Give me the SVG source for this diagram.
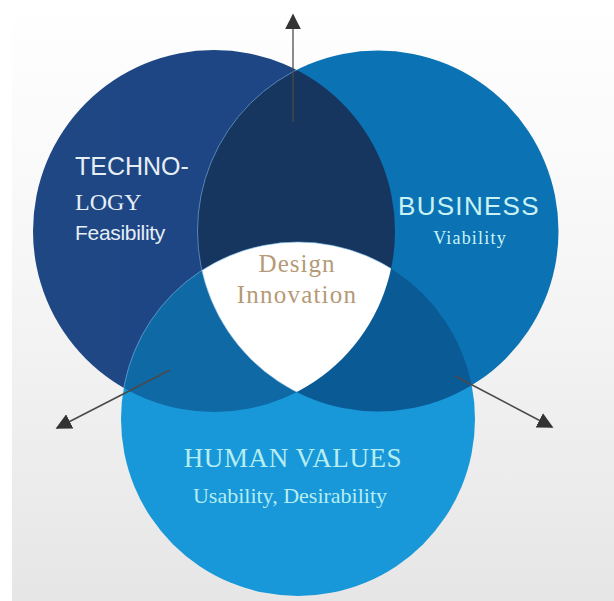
<svg xmlns="http://www.w3.org/2000/svg" width="614" height="601" viewBox="0 0 614 601">
  <defs>
    <linearGradient id="bg" x1="0" y1="0" x2="0" y2="1">
      <stop offset="0" stop-color="#ffffff"/>
      <stop offset="0.45" stop-color="#f6f6f6"/>
      <stop offset="1" stop-color="#e6e6e6"/>
    </linearGradient>
    <clipPath id="clipL"><circle cx="214" cy="231" r="181"/></clipPath>
    <clipPath id="clipR"><circle cx="378" cy="231" r="180.5"/></clipPath>
    <clipPath id="clipB"><circle cx="298" cy="419" r="177"/></clipPath>
    <marker id="ah" viewBox="0 0 10 10" refX="9" refY="5" markerWidth="16" markerHeight="16" markerUnits="userSpaceOnUse" orient="auto">
      <path d="M0,0 L10,5 L0,10 Z" fill="#333333"/>
    </marker>
    <style>
      .sans { font-family: "Liberation Sans", Arial, sans-serif; }
      .serif { font-family: "Liberation Serif", "Times New Roman", serif; }
      .conn { stroke: #4a4a4a; stroke-width: 1.6; fill: none; }
    </style>
  </defs>
  <rect width="614" height="601" fill="url(#bg)"/>
  <rect x="0" y="0" width="12" height="601" fill="#ffffff"/>

  <g id="technology">
    <circle cx="214" cy="231" r="181" fill="#1e4784"/>
  </g>
  <g id="business">
    <circle cx="378" cy="231" r="180.5" fill="#0b72b4"/>
  </g>
  <g id="human-values">
    <circle cx="298" cy="419" r="177" fill="#1897d9"/>
  </g>
  <g id="overlaps">
    <circle cx="378" cy="231" r="180.5" fill="#17365f" clip-path="url(#clipL)"/>
    <circle cx="298" cy="419" r="177" fill="#0f69a6" clip-path="url(#clipL)"/>
    <circle cx="298" cy="419" r="177" fill="#0a5b95" clip-path="url(#clipR)"/>
    <g clip-path="url(#clipB)">
      <circle cx="378" cy="231" r="180.5" fill="#ffffff" clip-path="url(#clipL)"/>
    </g>
    <g clip-path="url(#clipL)" fill="none" stroke="#7fb3dd" stroke-width="1" opacity="0.6">
      <circle cx="378" cy="231" r="180.5"/>
      <circle cx="298" cy="419" r="177"/>
    </g>
  </g>

  <g id="connectors">
    <line class="conn" x1="293" y1="122" x2="293" y2="15" marker-end="url(#ah)" stroke-opacity="0.8"/>
    <line class="conn" x1="170" y1="370" x2="57" y2="428" marker-end="url(#ah)"/>
    <line class="conn" x1="455" y1="376" x2="552" y2="427" marker-end="url(#ah)"/>
  </g>

  <g id="technology-label" fill="#e6eef6">
    <text class="sans" x="75" y="175" font-size="25">TECHNO-</text>
    <text class="serif" x="75" y="210" font-size="24">LOGY</text>
    <text class="sans" x="75" y="240" font-size="21" letter-spacing="-0.3">Feasibility</text>
  </g>
  <g id="business-label" fill="#c8f2f4">
    <text class="sans" x="398" y="215" font-size="26" letter-spacing="1.3">BUSINESS</text>
    <text class="serif" x="470" y="244" font-size="18" letter-spacing="1.2" text-anchor="middle">Viability</text>
  </g>
  <g id="design-innovation-label" fill="#b59a77">
    <text class="serif" x="297" y="272" font-size="25" letter-spacing="1" text-anchor="middle">Design</text>
    <text class="serif" x="297" y="303" font-size="25" letter-spacing="1.2" text-anchor="middle">Innovation</text>
  </g>
  <g id="human-values-label" fill="#b5eef2">
    <text class="serif" x="293" y="467" font-size="27" letter-spacing="0.6" text-anchor="middle">HUMAN VALUES</text>
    <text class="serif" x="290" y="503" font-size="22" text-anchor="middle">Usability, Desirability</text>
  </g>
</svg>
